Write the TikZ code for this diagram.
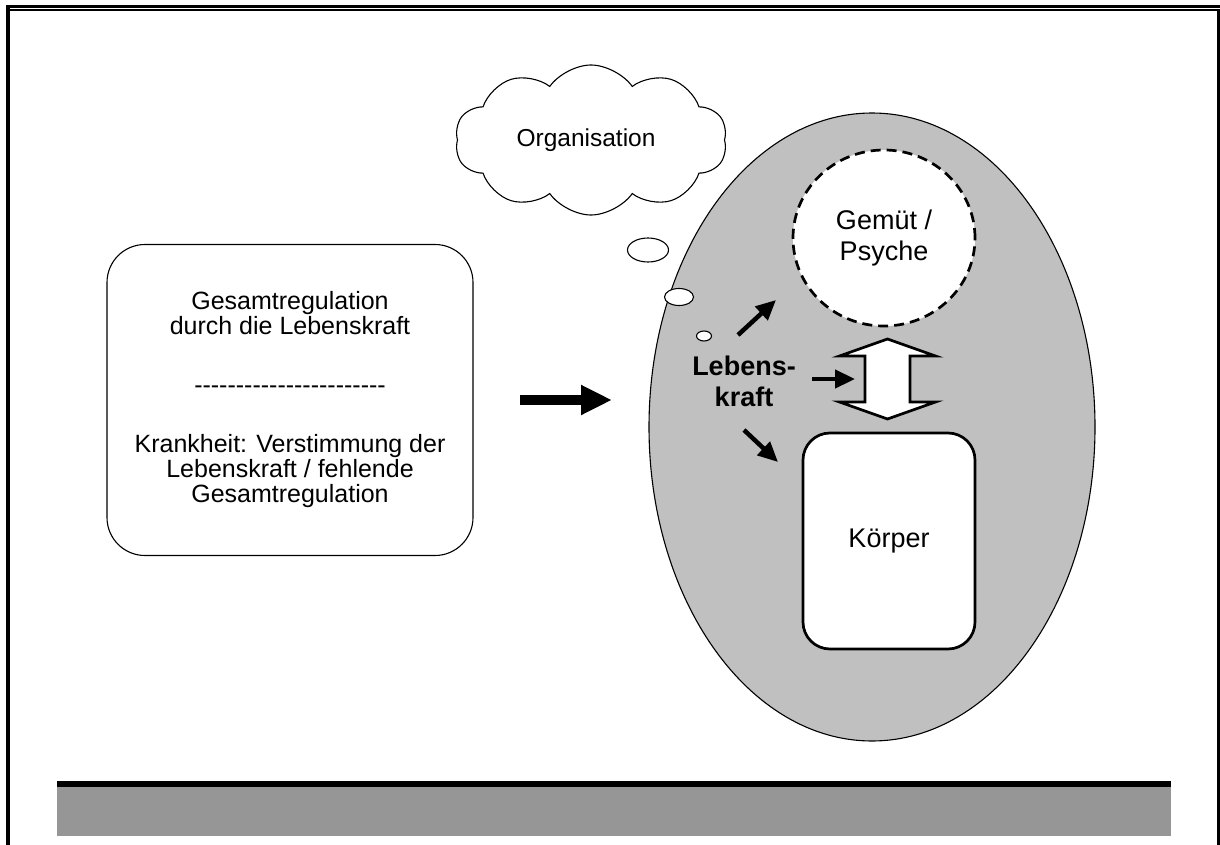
\documentclass[tikz,border=0pt]{standalone}
\usepackage{fontspec}
\setmainfont{Liberation Sans}
\usetikzlibrary{shapes.symbols,shapes.geometric,arrows.meta}
\definecolor{shell}{RGB}{192,192,192}
\definecolor{band}{RGB}{150,150,150}
\newcommand{\hyrule}{\foreach\k in {1,...,23}{\mbox{-}}}
\begin{document}
\begin{tikzpicture}[x=1pt,y=-1pt,
  txtsmall/.style={font=\fontsize{25}{25}\selectfont},
  txtbig/.style={font=\fontsize{27}{31}\selectfont},
  thinline/.style={draw=black,line width=1.1pt},
  heavyline/.style={draw=black,line width=2.7pt},
  bubble/.style={ellipse,thinline,fill=white,inner sep=0pt},
  pointer/.style={line width=4.5pt,-{Triangle[length=20pt,width=18pt]}},
  bigpointer/.style={line width=10pt,-{Triangle[length=31pt,width=28pt]}}]
\useasboundingbox (0,0) rectangle (1220,845);
\fill[white] (0,0) rectangle (1220,845);

% page frame
\fill (6,5.5) rectangle (1220,7.7);
\fill (10,9.2) rectangle (1220,10.7);
\fill (6,5.5) rectangle (10,845);
\fill (1217.3,9.2) rectangle (1220,845);

% footer band
\fill (57,781) rectangle (1171,787);
\fill[band] (57,787) rectangle (1171,836);

% left text box
\node[thinline,rounded corners=38pt,minimum width=366pt,minimum height=311pt,
      align=center,txtsmall] (regul) at (290,400)
  {Gesamtregulation\\durch die Lebenskraft\\[34pt]\hyrule\\[34pt]
   Krankheit: Verstimmung der\\Lebenskraft / fehlende\\Gesamtregulation};

% organism
\node[ellipse,thinline,fill=shell,minimum width=446pt,minimum height=628pt,inner sep=0pt]
  (shell) at (872,427) {};

% thought cloud
\node[cloud,cloud puffs=10,cloud puff arc=110,aspect=1.75,thinline,fill=white,
      minimum width=272pt,minimum height=150pt,inner sep=0pt,
      font=\fontsize{24.5}{28}\selectfont]
  (orga) at (591,140) {Organisation\hspace*{10pt}};
\node[bubble,minimum width=41pt,minimum height=24pt] (b1) at (648,250) {};
\node[bubble,minimum width=29pt,minimum height=17pt] (b2) at (679,297) {};
\node[bubble,minimum width=15pt,minimum height=10pt] (b3) at (704,336) {};

% mind
\node[ellipse,heavyline,dash pattern=on 10pt off 6pt,fill=white,
      minimum width=182pt,minimum height=176pt,inner sep=0pt,align=center,txtbig]
  (psyche) at (884,238) {Gemüt /\\Psyche};

% body
\node[heavyline,fill=white,rounded corners=27pt,minimum width=172pt,
      minimum height=216pt,txtbig] (body) at (889,541) {Körper};

% mutual link between mind and body
\coordinate (link) at (887.5,379);
\begin{scope}[shift={(link)}]
  \draw[heavyline,fill=white,line join=miter]
    (0,-40) -- (48,-23) -- (22.5,-23) -- (22.5,23) -- (48,23) -- (0,40)
    -- (-48,23) -- (-22.5,23) -- (-22.5,-23) -- (-48,-23) -- cycle;
\end{scope}

% vital force
\node[align=center,font=\bfseries\fontsize{27}{31}\selectfont] (force) at (744,381)
  {Lebens-\\kraft};
\coordinate (f1s) at (738,335);  \coordinate (f1e) at (776,300);
\coordinate (f2s) at (812,379);  \coordinate (f2e) at (855,379);
\coordinate (f3s) at (744,430);  \coordinate (f3e) at (778,462);
\draw[pointer] (f1s) -- (f1e);
\draw[pointer] (f2s) -- (f2e);
\draw[pointer] (f3s) -- (f3e);

% transition arrow
\coordinate (g1) at (520,400);
\coordinate (g2) at (612,400);
\draw[bigpointer] (g1) -- (g2);
\end{tikzpicture}
\end{document}
